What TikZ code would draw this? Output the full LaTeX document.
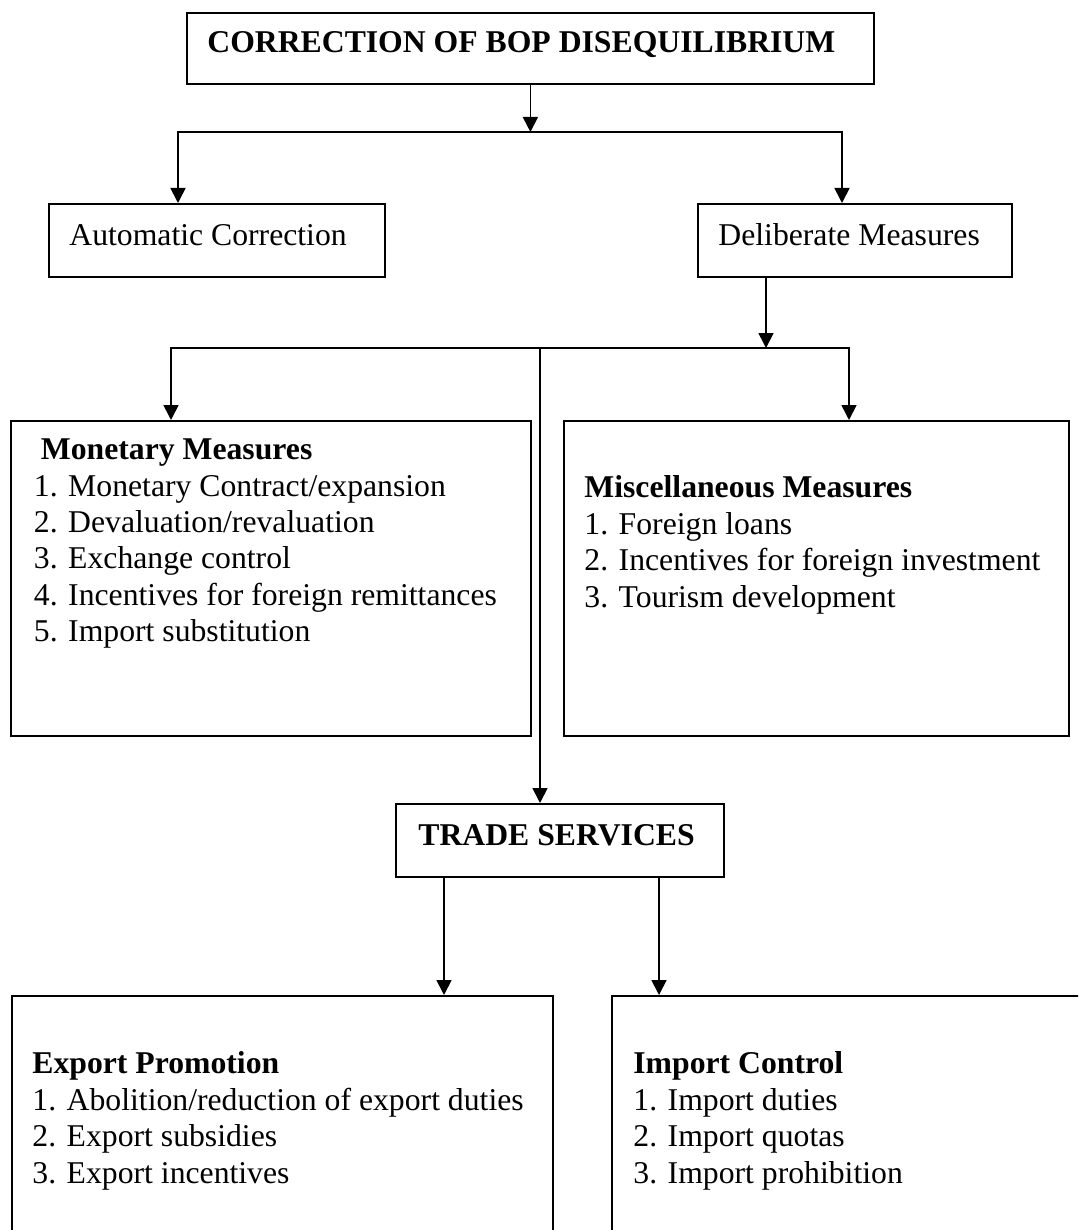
\documentclass[tikz,border=0pt]{standalone}
\usepackage{fontspec}
\setmainfont{Liberation Serif}
\usetikzlibrary{arrows.meta}

\newcommand\chartfont{\fontsize{15.85}{18.2}\selectfont}

\tikzset{
  box/.style 2 args={draw, line width=0.9pt, inner sep=0pt, anchor=north west,
    minimum width=#1*0.5pt, minimum height=#2*0.5pt},
  arr/.style={line width=0.85pt, -{Triangle[length=7.5pt,width=7.5pt]}},
  txt/.style={anchor=base west, inner sep=0pt, font=\chartfont},
  head/.style={txt, font=\chartfont\bfseries},
  list/.style={anchor=north west, inner sep=0pt, align=left, font=\chartfont},
}

\begin{document}
\begin{tikzpicture}[x=0.5pt, y=-0.5pt]
\clip (0,0) rectangle (1078,1230);
\fill[white] (0,0) rectangle (1078,1230);

% boxes
\node[box={687}{71}] (top) at (186,12) {};
\node[box={336}{73}] (auto) at (48,203) {};
\node[box={314}{73}] (delib) at (697,203) {};
\node[box={520}{315}] (mon) at (10,420) {};
\node[box={505}{315}] (misc) at (563,420) {};
\node[box={328}{73}] (trade) at (395,803) {};
\node[box={541}{300}] (expo) at (11,995) {};
\node[box={520}{300}] (impo) at (611,995) {};

% texts
\node[head] (top-txt) at ([shift={(21,41)}]top.north west) {CORRECTION OF BOP DISEQUILIBRIUM};
\node[txt] (auto-txt) at ([shift={(21,42)}]auto.north west) {Automatic Correction};
\node[txt] (delib-txt) at ([shift={(21,42)}]delib.north west) {Deliberate Measures};
\node[head] (trade-txt) at ([shift={(23,42)}]trade.north west) {TRADE SERVICES};

\node[list] (mon-txt) at ([shift={(23.5,18.5)}]mon.north west)
  {\hspace*{3.5pt}\textbf{Monetary Measures}\\
   1. Monetary Contract/expansion\\
   2. Devaluation/revaluation\\
   3. Exchange control\\
   4. Incentives for foreign remittances\\
   5. Import substitution};
\node[list] (misc-txt) at ([shift={(21,55.5)}]misc.north west)
  {\textbf{Miscellaneous Measures}\\
   1. Foreign loans\\
   2. Incentives for foreign investment\\
   3. Tourism development};
\node[list] (expo-txt) at ([shift={(21,56.5)}]expo.north west)
  {\textbf{Export Promotion}\\
   1. Abolition/reduction of export duties\\
   2. Export subsidies\\
   3. Export incentives};
\node[list] (impo-txt) at ([shift={(22,56.5)}]impo.north west)
  {\textbf{Import Control}\\
   1. Import duties\\
   2. Import quotas\\
   3. Import prohibition};

% connectors
\coordinate (j1) at (top.south |- 0,132);
\coordinate (j2) at (766,348);
\draw[arr] (top.south) -- (j1);
\draw[arr] (j1) -| (178,0 |- auto.north);
\draw[arr] (j1) -| (842,0 |- delib.north);
\draw[arr] (766,0 |- delib.south) -- (j2);
\draw[arr] (j2) -| (171,0 |- mon.north);
\draw[arr] (j2) -| (849,0 |- misc.north);
\draw[arr] (540,0 |- j2) -- (540,0 |- trade.north);
\draw[arr] (444,0 |- trade.south) -- (444,0 |- expo.north);
\draw[arr] (659,0 |- trade.south) -- (659,0 |- impo.north);
\end{tikzpicture}
\end{document}
